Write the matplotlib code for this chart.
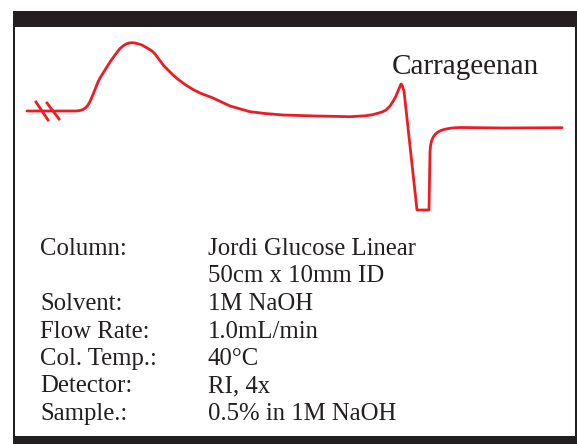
import matplotlib
matplotlib.use("Agg")
import matplotlib.pyplot as plt
from matplotlib.patches import Rectangle

# chromatogram trace (drawing units, y grows downward)
trace_x = [27, 76, 80, 83, 86, 88, 90, 92, 94, 96, 98, 100, 105, 110, 115, 120,
           123, 126, 129, 132, 135, 138, 142, 148, 152, 155, 158, 161, 164, 168,
           172, 177, 185, 193, 200, 213, 230, 250, 265, 283, 316, 350, 365, 372,
           377, 382, 386, 390, 393, 396, 398, 400, 401, 402, 404, 417, 429, 430,
           430.5, 431.5, 433, 435, 438, 441, 444, 447, 452, 460, 503, 562]
trace_y = [111, 111, 110.5, 109.5, 107.5, 105, 101.5, 97, 92, 87, 82, 78, 70, 62,
           55, 48.5, 46, 44, 43, 42.7, 43, 43.8, 45, 48.5, 51, 54, 58, 62, 66,
           70, 74, 78.5, 84.5, 89.5, 93, 98, 106, 111.7, 113.5, 115, 116, 116.7,
           115.8, 114.8, 113.5, 112, 110, 106, 101.5, 96, 91, 86.5, 84, 85, 91,
           210, 210, 152, 146, 141, 137.5, 134.5, 132, 130.5, 129.5, 128.8,
           128, 127.5, 128, 127.7]

# axis-break slashes on the baseline
break_x = [(36, 48), (47, 59)]
break_y = [(102, 120), (103, 119)]

peak_label = "Carrageenan"

info_labels = ["Column:", "", "Solvent:", "Flow Rate:", "Col. Temp.:",
               "Detector:", "Sample.:"]
info_values = ["Jordi Glucose Linear", "50cm x 10mm ID", "1M NaOH",
               "1.0mL/min", "40°C", "RI, 4x", "0.5% in 1M NaOH"]
info_baselines = [255, 282, 310, 338, 365, 392, 420]

red = "#ec1c24"
frame = "#231f20"

fig = plt.figure(figsize=(5.77, 4.44), dpi=100)
ax = fig.add_axes([0, 0, 1, 1])
ax.set_xlim(0, 577)
ax.set_ylim(444, 0)
ax.axis("off")

# frame: thick top/bottom bands, thin sides
ax.add_patch(Rectangle((12.7, 11), 577 - 12.7, 16, color=frame, lw=0))
ax.add_patch(Rectangle((12.7, 435.7), 577 - 12.7, 8.3, color=frame, lw=0))
ax.add_patch(Rectangle((12.7, 11), 2, 430, color=frame, lw=0))
ax.add_patch(Rectangle((574.7, 11), 1.8, 430, color=frame, lw=0))

ax.plot(trace_x, trace_y, color=red, lw=2.0, solid_joinstyle="round",
        solid_capstyle="round")
for bx, by in zip(break_x, break_y):
    ax.plot(bx, by, color=red, lw=2.0)

serif = ["Liberation Serif", "DejaVu Serif"]
ax.text(392, 74, peak_label, family=serif, fontsize=21, color="#231f20",
        va="baseline", ha="left")

for lab, val, yb in zip(info_labels, info_values, info_baselines):
    ax.text(40, yb, lab, family=serif, fontsize=17.8, color="#231f20",
            va="baseline", ha="left")
    ax.text(208, yb, val, family=serif, fontsize=17.8, color="#231f20",
            va="baseline", ha="left")

fig.savefig("out.png", dpi=100)
